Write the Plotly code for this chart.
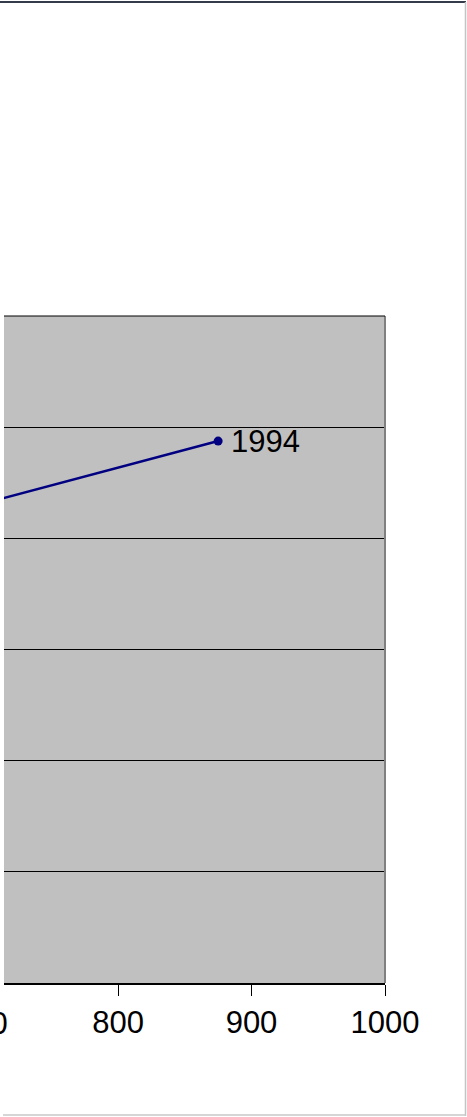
import plotly.graph_objects as go

# data
years = ["1993", "1994"]
x_vals = [650, 875]
y_vals = [4.157, 4.875]
x_ticks = [800, 900, 1000]
hidden_tick = "700"

W, H = 467, 1117
L, R, T, B = 4, 82, 316, 134
pw, ph = W - L - R, H - T - B
FONT = "Liberation Sans, Arial"
FS = 31

def px_x(p):
    return (p - L) / pw

def px_y(p):
    return (H - B - p) / ph

fig = go.Figure()
fig.add_trace(go.Scatter(
    x=x_vals, y=y_vals, mode="lines+markers",
    line=dict(color="#000080", width=2.5),
    marker=dict(color="#000080", size=9),
    cliponaxis=True,
    showlegend=False,
))

fig.add_annotation(x=x_vals[1], y=y_vals[1], xref="x", yref="y", text=years[1],
                   showarrow=False, xanchor="left", yanchor="middle", xshift=11,
                   font=dict(family=FONT, size=FS, color="black"))

# partially visible tick label cut by the left edge
fig.add_annotation(x=px_x(-18), y=0, xref="paper", yref="paper", text=hidden_tick,
                   showarrow=False, xanchor="center", yanchor="top", yshift=-21,
                   font=dict(family=FONT, size=FS, color="black"))

shapes = [
    dict(type="line", xref="paper", yref="paper", x0=1, x1=1, y0=0, y1=1,
         line=dict(color="#808080", width=2)),
    dict(type="line", xref="paper", yref="paper", x0=0, x1=1, y0=1, y1=1,
         line=dict(color="black", width=1)),
    dict(type="line", xref="paper", yref="paper", x0=px_x(0), x1=px_x(466), y0=px_y(2), y1=px_y(2),
         line=dict(color="#343c4c", width=2)),
    dict(type="line", xref="paper", yref="paper", x0=px_x(465.5), x1=px_x(465.5), y0=px_y(2), y1=px_y(1116),
         line=dict(color="#c4c4c4", width=1.5)),
    dict(type="line", xref="paper", yref="paper", x0=px_x(3), x1=px_x(466), y0=px_y(1115), y1=px_y(1115),
         line=dict(color="#c8c8c8", width=1.5)),
]

fig.update_layout(
    width=W, height=H,
    margin=dict(l=L, r=R, t=T, b=B, pad=0),
    paper_bgcolor="white", plot_bgcolor="#C0C0C0",
    shapes=shapes,
    xaxis=dict(range=[714.6, 1000], tickvals=x_ticks, ticktext=[str(v) for v in x_ticks],
               showgrid=False, zeroline=False, showline=True, linecolor="black", linewidth=1.5,
               ticks="outside", ticklen=11, tickcolor="black", tickwidth=1,
               tickfont=dict(family=FONT, size=FS, color="black"),
               fixedrange=True),
    yaxis=dict(range=[0, 6], dtick=1, showgrid=True, gridcolor="black", gridwidth=1,
               zeroline=False, showticklabels=False, showline=False, fixedrange=True),
)

fig.write_html("out.html", config={"displayModeBar": False},
               post_script="document.body.style.margin='0';document.body.style.overflow='hidden';")
